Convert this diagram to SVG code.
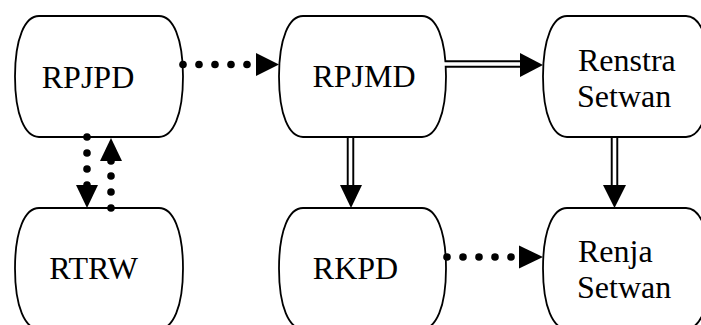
<svg xmlns="http://www.w3.org/2000/svg" width="701" height="325" viewBox="0 0 701 325">
<style>
.node{fill:#fff;stroke:#000;stroke-width:1.8}
.lbl{font-family:"Liberation Serif","Times New Roman",serif;font-size:32px;fill:#000}
.dot{fill:#000}
.head{fill:#000}
.dblo{stroke:#000;stroke-width:7.5;fill:none}
.dbli{stroke:#fff;stroke-width:3.6;fill:none}
</style>
<rect width="701" height="325" fill="#fff"/>
<g id="RPJPD">
<path class="node" d="M39,16 H159 C173,16 183,38 183,76.5 C183,115 173,137 159,137 H39 C25,137 15,115 15,76.5 C15,38 25,16 39,16 Z"/>
<text class="lbl" x="88" y="88" text-anchor="middle">RPJPD</text>
</g>
<g id="RPJMD">
<path class="node" d="M303,16 H422 C436,16 446,38 446,76.5 C446,115 436,137 422,137 H303 C289,137 279,115 279,76.5 C279,38 289,16 303,16 Z"/>
<text class="lbl" x="364" y="87" text-anchor="middle">RPJMD</text>
</g>
<g id="Renstra">
<path class="node" d="M567,16 H686 C700,16 710,38 710,76.5 C710,115 700,137 686,137 H567 C553,137 543,115 543,76.5 C543,38 553,16 567,16 Z"/>
<text class="lbl" x="578" y="71">Renstra</text>
<text class="lbl" x="577" y="107">Setwan</text>
</g>
<g id="RTRW">
<path class="node" d="M39,208 H159 C173,208 183,230 183,268.5 C183,307 173,329 159,329 H39 C25,329 15,307 15,268.5 C15,230 25,208 39,208 Z"/>
<text class="lbl" x="93.5" y="279" text-anchor="middle">RTRW</text>
</g>
<g id="RKPD">
<path class="node" d="M303,208 H422 C436,208 446,230 446,268.5 C446,307 436,329 422,329 H303 C289,329 279,307 279,268.5 C279,230 289,208 303,208 Z"/>
<text class="lbl" x="355.5" y="279" text-anchor="middle">RKPD</text>
</g>
<g id="Renja">
<path class="node" d="M567,208 H686 C700,208 710,230 710,268.5 C710,307 700,329 686,329 H567 C553,329 543,307 543,268.5 C543,230 553,208 567,208 Z"/>
<text class="lbl" x="578" y="262">Renja</text>
<text class="lbl" x="577" y="298">Setwan</text>
</g>
<g id="connectors">
<circle class="dot" cx="183" cy="64.5" r="3.8"/><circle class="dot" cx="199" cy="64.5" r="3.8"/><circle class="dot" cx="215" cy="64.5" r="3.8"/><circle class="dot" cx="231" cy="64.5" r="3.8"/><circle class="dot" cx="247" cy="64.5" r="3.8"/>
<polygon class="head" points="256,53 279,64.5 256,76"/>
<circle class="dot" cx="447" cy="257" r="3.8"/><circle class="dot" cx="463" cy="257" r="3.8"/><circle class="dot" cx="479" cy="257" r="3.8"/><circle class="dot" cx="495" cy="257" r="3.8"/><circle class="dot" cx="511" cy="257" r="3.8"/>
<polygon class="head" points="519,245.5 543,257 519,268.5"/>
<circle class="dot" cx="87" cy="137" r="3.8"/><circle class="dot" cx="87" cy="153" r="3.8"/><circle class="dot" cx="87" cy="169" r="3.8"/><circle class="dot" cx="87" cy="185" r="3.8"/>
<polygon class="head" points="76,185 98,185 87,208"/>
<circle class="dot" cx="111" cy="208" r="3.8"/><circle class="dot" cx="111" cy="192" r="3.8"/><circle class="dot" cx="111" cy="176" r="3.8"/><circle class="dot" cx="111" cy="161" r="3.8"/>
<polygon class="head" points="100,161 122,161 111,138"/>
<line class="dblo" x1="446" y1="64" x2="522" y2="64"/><line class="dbli" x1="444" y1="64" x2="523" y2="64"/>
<polygon class="head" points="520,53 543,65 520,77"/>
<line class="dblo" x1="350.5" y1="137" x2="350.5" y2="187"/><line class="dbli" x1="350.5" y1="138" x2="350.5" y2="188"/>
<polygon class="head" points="340,185 362,185 351,208"/>
<line class="dblo" x1="614.5" y1="137" x2="614.5" y2="187"/><line class="dbli" x1="614.5" y1="138" x2="614.5" y2="188"/>
<polygon class="head" points="603,185 626,185 614.5,208"/>
</g>
</svg>
